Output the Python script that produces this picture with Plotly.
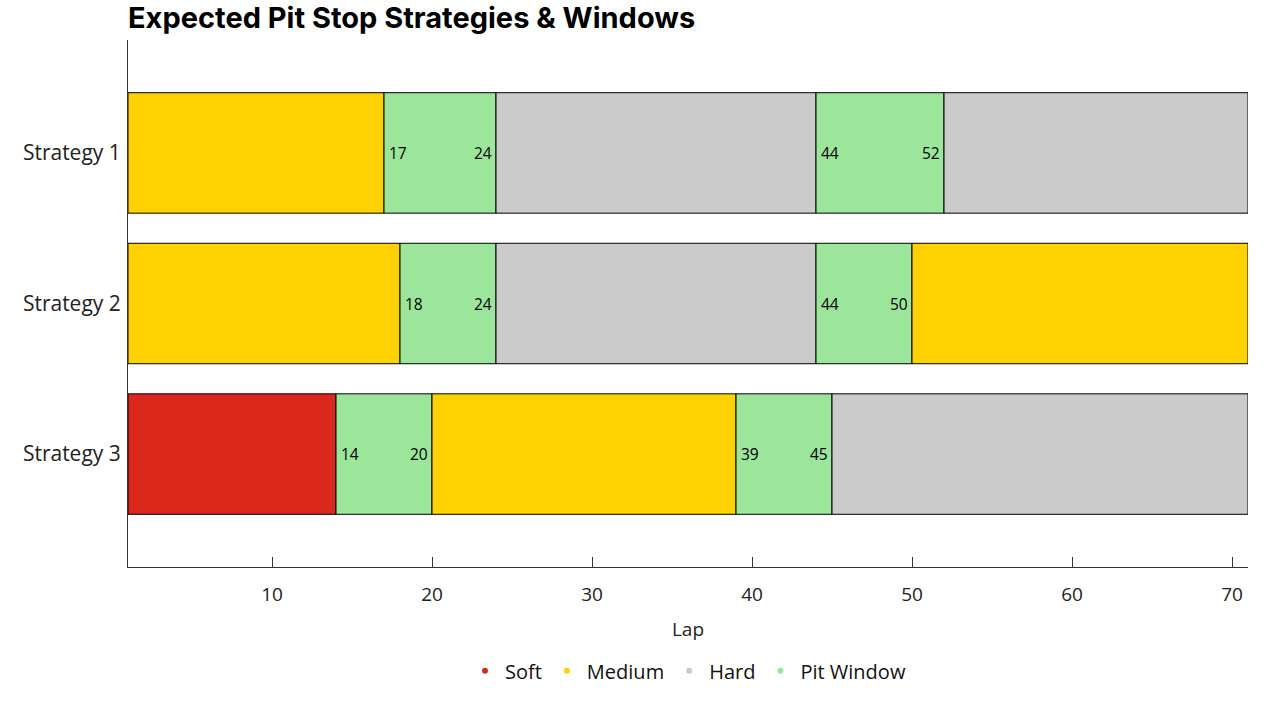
import plotly.graph_objects as go

strategies = ["Strategy 1", "Strategy 2", "Strategy 3"]
stint_starts = [[1, 17, 24, 44, 52], [1, 18, 24, 44, 50], [1, 14, 20, 39, 45]]
stint_ends = [[17, 24, 44, 52, 71], [18, 24, 44, 50, 71], [14, 20, 39, 45, 71]]
stint_types = [["Medium", "Pit Window", "Hard", "Pit Window", "Hard"],
               ["Medium", "Pit Window", "Hard", "Pit Window", "Medium"],
               ["Soft", "Pit Window", "Medium", "Pit Window", "Hard"]]
legend_names = ["Soft", "Medium", "Hard", "Pit Window"]
colors = {"Soft": "#DA291C", "Medium": "#FFD100", "Hard": "#CBCBCB", "Pit Window": "#9BE69A"}
x_ticks = [10, 20, 30, 40, 50, 60, 70]

FONT = "Open Sans"
fig = go.Figure()
annotations = []
for s, starts, ends, types in zip(strategies, stint_starts, stint_ends, stint_types):
    for a, b, t in zip(starts, ends, types):
        fig.add_trace(go.Bar(
            y=[s], x=[b - a], base=[a], orientation="h",
            marker=dict(color=colors[t], line=dict(color="black", width=1)),
            showlegend=False, hoverinfo="skip", width=0.8))
        if t == "Pit Window":
            annotations.append(dict(x=a, y=s, text=str(a), showarrow=False,
                                    xanchor="left", xshift=3, font=dict(size=15.5, color="black", family=FONT)))
            annotations.append(dict(x=b, y=s, text=str(b), showarrow=False,
                                    xanchor="right", xshift=-2, font=dict(size=15.5, color="black", family=FONT)))

for n in legend_names:
    fig.add_trace(go.Scatter(x=[None], y=[None], mode="markers", name=n,
                             marker=dict(color=colors[n], size=6)))

fig.update_layout(
    width=1280, height=720,
    paper_bgcolor="white", plot_bgcolor="white",
    barmode="overlay",
    margin=dict(l=128, r=32, t=40, b=153),
    title=dict(text="<b>Expected Pit Stop Strategies & Windows</b>", x=128/1280, xanchor="left",
               y=1 - 18/720, yanchor="middle",
               font=dict(family="Inter", size=29, color="black", weight=900)),
    font=dict(family=FONT, color="#222"),
    legend=dict(orientation="h", x=0.5, xanchor="center", y=-0.197, yanchor="middle",
                font=dict(size=20, color="#111", family=FONT), itemwidth=30),
    annotations=annotations,
)
fig.update_xaxes(range=[1, 71], tickvals=x_ticks, ticks="inside", ticklen=10, tickcolor="#333",
                 showline=True, linecolor="#333", linewidth=1, showgrid=False, zeroline=False,
                 ticklabelstandoff=10,
                 tickfont=dict(size=19, family=FONT, color="#222"),
                 title=dict(text="Lap", font=dict(size=19, family=FONT, color="#222"), standoff=16))
fig.update_yaxes(categoryorder="array", categoryarray=strategies, range=[2.75, -0.75],
                 showline=True, linecolor="#333", linewidth=1, showgrid=False, zeroline=False,
                 ticks="", ticklabelstandoff=2, tickfont=dict(size=21, family=FONT, color="#222"))

fig.write_html("out.html")
